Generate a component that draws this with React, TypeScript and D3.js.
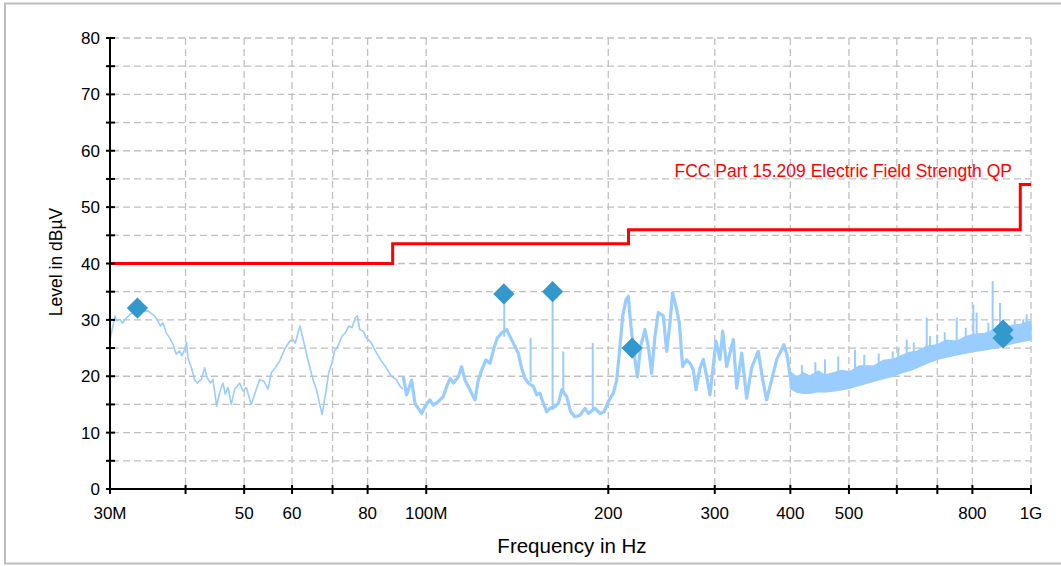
import React from "react";
import * as d3 from "d3";

// ---- axis data ----
const xTickValues = [30, 40, 50, 60, 70, 80, 100, 200, 300, 400, 500, 600, 700, 800, 1000];
const xLabelValues = [30, 50, 60, 80, 100, 200, 300, 400, 500, 800, 1000];
const xLabelTexts = ["30M", "50", "60", "80", "100M", "200", "300", "400", "500", "800", "1G"];
const yMajor = [0, 10, 20, 30, 40, 50, 60, 70, 80];
const yMinor = [5, 15, 25, 35, 45, 55, 65, 75];

// ---- limit line (FCC Part 15.209 QP) ----
const limitFreq = [30, 88, 88, 216, 216, 960, 960, 1000];
const limitLevel = [40, 40, 43.5, 43.5, 46, 46, 54, 54];
const limitLabel = "FCC Part 15.209 Electric Field Strength QP";

// ---- measured trace, 30 – 92 MHz (thin) ----
const traceAFreq = [
  30.0, 30.58, 30.77, 31.16, 31.44, 31.84, 32.38, 33.29, 34.66, 35.55, 36.01, 36.37, 36.7, 37.17, 37.64,
  38.12, 38.61, 39.1, 39.45, 39.85, 40.16, 40.36, 40.98, 41.4, 41.82, 42.47, 43.01, 43.45, 44.0, 44.4,
  44.79, 45.02, 45.54, 46.12, 46.54, 47.01, 47.61, 48.22, 49.14, 49.77, 50.41, 51.37, 52.36, 53.03,
  53.92, 54.75, 55.44, 56.51, 57.23, 58.34, 59.45, 60.21, 60.75, 61.37, 61.84, 62.31, 62.95, 63.91,
  64.98, 65.82, 66.66, 67.26, 67.77, 68.37, 68.98, 69.86, 70.57, 71.47, 72.57, 73.5, 74.45, 75.39,
  76.35, 76.94, 77.63, 78.61, 79.61, 81.15, 82.7, 84.3, 85.93, 87.57, 89.26, 90.41, 91.55,
];
const traceALevel = [
  26.5, 30.7, 29.8, 30.1, 29.4, 30.2, 31.0, 31.5, 31.6, 30.7, 29.8, 28.9, 29.5, 27.7, 26.8,
  25.7, 23.9, 24.5, 23.6, 24.8, 26.0, 23.3, 21.2, 19.4, 18.8, 19.4, 21.5, 19.7, 18.8, 19.4,
  16.5, 14.7, 17.1, 18.8, 16.8, 18.0, 15.0, 17.7, 18.8, 17.4, 18.0, 15.0, 17.7, 19.4,
  19.1, 17.7, 20.6, 21.8, 22.7, 24.8, 26.2, 26.5, 25.9, 27.7, 28.9, 27.4, 25.4, 22.4,
  19.4, 17.7, 15.0, 13.2, 15.3, 17.7, 20.6, 22.4, 24.5, 25.4, 27.1, 27.7, 28.9, 28.6,
  30.4, 30.7, 28.3, 28.0, 26.8, 25.9, 24.2, 22.7, 21.5, 20.0, 19.4, 18.3, 17.7,
];

// ---- measured trace, 91 – 410 MHz (dense) ----
const traceBFreq = [
  91.65, 92.8, 94.6, 95.8, 97.0, 98.3, 99.5, 101.4, 102.7, 104.7, 106.7, 108.1, 109.5, 110.9, 113.0,
  114.4, 115.9, 118.1, 120.4, 121.9, 123.5, 125.5, 127.5, 129.4, 131.1, 133.3, 135.8, 138.4, 140.2,
  142.0, 143.8, 145.7, 147.5, 150.4, 152.3, 154.2, 156.2, 158.2, 160.2, 163.3, 165.4, 167.5, 170.7,
  173.3, 176.2, 179.6, 183.0, 185.4, 190.1, 193.8, 196.8, 200.0, 203.9, 206.5, 209.1, 211.3, 214.0,
  215.9, 217.2, 218.6, 221.4, 223.4, 226.2, 230.0, 232.9, 235.9, 238.9, 242.0, 246.6, 249.8, 253.0,
  255.5, 258.8, 262.1, 265.4, 269.5, 273.0, 276.5, 279.3, 283.6, 287.2, 290.8, 294.6, 301.4, 306.0,
  309.2, 313.9, 321.9, 326.1, 332.4, 338.7, 345.2, 354.0, 360.0, 365.5, 372.6, 379.8, 390.4, 395.4,
  400.5, 407.1,
];
const traceBLevel = [
  19.9, 16.7, 19.3, 15.2, 14.3, 13.4, 14.6, 15.8, 14.9, 15.5, 16.4, 18.2, 19.6, 18.8, 19.9,
  21.7, 19.3, 17.6, 15.8, 19.3, 21.1, 22.9, 22.3, 25.0, 26.8, 27.7, 28.3, 26.5, 25.3,
  24.1, 21.4, 19.6, 18.8, 18.2, 16.7, 17.0, 15.2, 13.7, 14.3, 14.6, 15.2, 17.6, 16.4,
  13.7, 12.8, 13.1, 14.3, 13.4, 14.3, 13.4, 13.7, 15.5, 17.0, 19.3, 25.3, 30.7, 33.6,
  34.2, 30.7, 27.7, 22.9, 19.9, 25.3, 28.3, 25.3, 20.5, 27.1, 31.3, 30.7, 24.4, 29.5,
  34.8, 32.4, 29.5, 21.7, 22.9, 22.3, 21.1, 17.6, 21.5, 23.0, 20.0, 16.7, 26.2, 23.0,
  28.0, 21.7, 26.5, 17.9, 24.1, 16.1, 21.5, 24.4, 19.4, 15.8, 19.4, 23.0, 25.6, 23.5,
  19.4, 18.5,
];

// ---- dense band envelope, 400 MHz – 1 GHz ----
const bandFreq = [400, 410, 420, 431, 445, 456, 471, 486, 502, 520, 549, 570, 591, 610, 630, 647, 672, 700, 725, 754, 780, 803, 840, 870, 889, 930, 960, 1000];
const bandLow = [17.8, 17.2, 17.0, 17.0, 17.3, 17.2, 17.4, 17.6, 17.9, 18.4, 19.1, 19.6, 20.0, 20.6, 21.0, 21.5, 22.3, 23.0, 23.4, 23.8, 24.1, 24.4, 24.7, 25.0, 25.2, 25.8, 26.1, 26.5];
const bandHigh = [20.8, 19.8, 20.6, 20.0, 20.9, 20.2, 20.6, 21.0, 20.8, 21.8, 21.8, 22.8, 23.0, 23.6, 24.2, 24.4, 25.3, 25.6, 26.4, 26.2, 27.0, 27.4, 27.6, 28.3, 28.3, 29.0, 29.2, 29.8];

// ---- narrow spikes ----
const spikeFreq = [134.6, 148.8, 161.8, 168.5, 188.5, 418, 440, 456.4, 480, 511.6, 530, 560, 590.6, 603.4, 623.0, 640, 672.3, 680.7, 699.9, 720, 753.6, 780, 802.8, 813.0, 850, 864.2, 888.6, 940, 971.0, 983.6];
const spikeBase = [27.0, 19.0, 14.0, 17.0, 14.0, 19.5, 19.5, 19.5, 20.0, 20.0, 21.0, 21.0, 21.5, 22.0, 22.5, 23.0, 24.0, 24.0, 24.5, 25.0, 25.5, 26.0, 26.5, 26.5, 27.0, 27.0, 27.5, 28.5, 28.5, 28.5];
const spikeTop = [34.8, 26.8, 34.8, 24.4, 25.9, 22.0, 22.5, 23.0, 23.5, 24.7, 23.8, 24.0, 24.4, 25.0, 26.5, 26.0, 30.4, 27.1, 27.4, 27.8, 30.4, 28.6, 32.7, 31.3, 29.5, 36.9, 33.0, 30.0, 30.1, 31.0];

// ---- final measurement markers ----
const markerFreq = [33.3, 134.4, 161.8, 219.0, 899.0, 899.0];
const markerLevel = [32.1, 34.6, 35.0, 25.0, 28.2, 26.8];

const W = 1061;
const H = 566;
const FONT = "'Liberation Sans', Arial, sans-serif";

export default function App() {
  const x = d3.scaleLog().domain([30, 1000]).range([110, 1031]);
  const y = d3.scaleLinear().domain([0, 80]).range([489, 38]);
  const x0 = x(30);
  const x1 = x(1000);

  const line = d3
    .line<[number, number]>()
    .x((d) => x(d[0]))
    .y((d) => y(d[1]));

  const traceA = line(traceAFreq.map((f, i) => [f, traceALevel[i]]));
  const traceB = line(traceBFreq.map((f, i) => [f, traceBLevel[i]]));
  const limit = line(limitFreq.map((f, i) => [f, limitLevel[i]]));
  const band = d3
    .area<number>()
    .x((_, i) => x(bandFreq[i]))
    .y0((_, i) => y(bandLow[i]))
    .y1((_, i) => y(bandHigh[i]))(bandFreq);

  const diamond = d3.symbol().type(d3.symbolSquare).size(225)();

  const traceColor = "#99ccff";
  const gridColor = "#c0c0c0";

  return (
    <svg
      width={W}
      height={H}
      style={{ position: "absolute", left: 0, top: 0, background: "#fff" }}
      fontFamily={FONT}
    >
      <rect x={0} y={0} width={W} height={H} fill="#fff" />
      <rect x={5} y={3.5} width={W + 20} height={560} fill="#fff" stroke="#bdbdbd" strokeWidth={2} />

      {/* grid */}
      <g stroke={gridColor} strokeWidth={1.3} strokeDasharray="7 4" fill="none">
        {[...yMinor, ...yMajor.slice(1)].map((v) => (
          <line key={"h" + v} x1={x0 + 2} x2={x1} y1={y(v)} y2={y(v)} />
        ))}
        {xTickValues.slice(1).map((f) => (
          <line key={"v" + f} x1={x(f)} x2={x(f)} y1={y(80)} y2={y(0)} />
        ))}
      </g>

      {/* limit line */}
      <path d={limit ?? ""} fill="none" stroke="#ff0000" strokeWidth={3} />
      <text x={1012} y={177} fontSize={17.5} fill="#ff0000" textAnchor="end">
        {limitLabel}
      </text>

      {/* trace */}
      <path d={band ?? ""} fill={traceColor} stroke={traceColor} strokeWidth={1.5} strokeLinejoin="miter" />
      <path d={traceA ?? ""} fill="none" stroke={traceColor} strokeWidth={1.6} strokeLinejoin="round" />
      <path d={traceB ?? ""} fill="none" stroke={traceColor} strokeWidth={3.2} strokeLinejoin="round" />
      <g stroke={traceColor} strokeWidth={2}>
        {spikeFreq.map((f, i) => (
          <line key={"s" + i} x1={x(f)} x2={x(f)} y1={y(spikeBase[i])} y2={y(spikeTop[i])} />
        ))}
      </g>

      {/* markers */}
      <g fill="#3399cc">
        {markerFreq.map((f, i) => (
          <path key={"m" + i} d={diamond ?? ""} transform={`translate(${x(f)},${y(markerLevel[i])}) rotate(45)`} />
        ))}
      </g>

      {/* axes */}
      <g stroke="#000" strokeWidth={2}>
        <line x1={x0} x2={x0} y1={y(80) - 1} y2={y(0) + 1} />
        <line x1={x0} x2={x1 + 1} y1={y(0)} y2={y(0)} />
        {[...yMajor, ...yMinor].map((v) => (
          <line key={"yt" + v} x1={x0 - 4} x2={x0 + 5} y1={y(v)} y2={y(v)} />
        ))}
        {xTickValues.map((f) => (
          <line key={"xt" + f} x1={x(f)} x2={x(f)} y1={y(0) - 4} y2={y(0) + 5} />
        ))}
      </g>

      <g fontSize={17} fill="#000">
        {yMajor.map((v) => (
          <text key={"yl" + v} x={100} y={y(v) + 6} textAnchor="end">
            {v}
          </text>
        ))}
        {xLabelValues.map((f, i) => (
          <text key={"xl" + f} x={x(f)} y={519} textAnchor="middle">
            {xLabelTexts[i]}
          </text>
        ))}
      </g>

      <text x={572} y={553} fontSize={20.5} textAnchor="middle" fill="#000">
        Frequency in Hz
      </text>
      <text transform="translate(62,262) rotate(-90)" fontSize={17.5} textAnchor="middle" fill="#000">
        Level in dBµV
      </text>
    </svg>
  );
}
